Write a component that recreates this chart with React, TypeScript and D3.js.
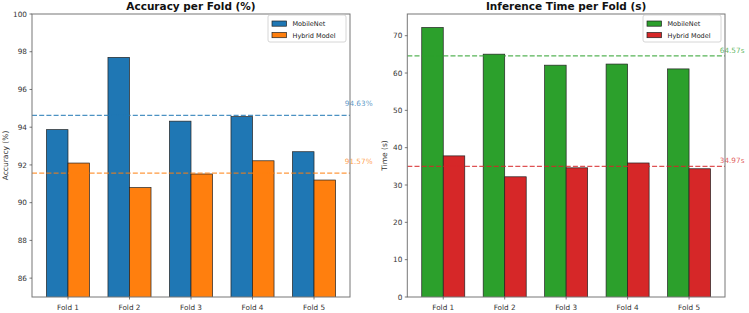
import React from "react";
import { scaleLinear, mean, max } from "d3";

const folds = ["Fold 1", "Fold 2", "Fold 3", "Fold 4", "Fold 5"];
const seriesNames = ["MobileNet", "Hybrid Model"];

const accMobileNet = [93.87, 97.7, 94.32, 94.56, 92.7];
const accHybrid = [92.1, 90.8, 91.52, 92.22, 91.2];
const accTicks = [86, 88, 90, 92, 94, 96, 98, 100];

const timeMobileNet = [72.2, 65.05, 62.1, 62.4, 61.1];
const timeHybrid = [37.8, 32.2, 34.6, 35.9, 34.35];
const timeTicks = [0, 10, 20, 30, 40, 50, 60, 70];

const FONT = "DejaVu Sans, sans-serif";
const BAR_W = 0.35;

type PanelProps = {
  title: string;
  ylabel: string;
  left: number;
  right: number;
  yDomain: [number, number];
  ticks: number[];
  a: number[];
  b: number[];
  colors: [string, string];
  unit: string;
  labelOffset: number;
  ylabelX: number;
};

function Panel(p: PanelProps) {
  const top = 14;
  const bottom = 297;
  const x = scaleLinear().domain([-0.585, folds.length - 1 + 0.585]).range([p.left, p.right]);
  const y = scaleLinear().domain(p.yDomain).range([bottom, top]);
  const means = [mean(p.a) as number, mean(p.b) as number];
  const series = [p.a, p.b];
  const cx = (p.left + p.right) / 2;
  const legX = p.right - 82;

  return (
    <g>
      <defs>
        <clipPath id={"clip" + p.left}>
          <rect x={p.left} y={top} width={p.right - p.left} height={bottom - top} />
        </clipPath>
      </defs>
      <g clipPath={`url(#clip${p.left})`}>
        {series.map((vals, s) =>
          vals.map((v, i) => {
            const x0 = x(i + (s === 0 ? -BAR_W : 0));
            const w = x(BAR_W) - x(0);
            const yt = y(v);
            return (
              <rect key={s + "-" + i} x={x0} y={yt} width={w} height={bottom - yt + 2}
                fill={p.colors[s]} stroke="#222" strokeWidth={0.7} />
            );
          })
        )}
      </g>
      {means.map((m, s) => (
        <g key={"m" + s}>
          <line x1={p.left} x2={p.right} y1={y(m)} y2={y(m)} stroke={p.colors[s]}
            strokeOpacity={0.8} strokeWidth={1.2} strokeDasharray="5,2.2" />
          <text x={x(4.5)} y={y(m + p.labelOffset) + 0.5} fill={p.colors[s]} fillOpacity={0.75}
            fontSize={7.3} fontFamily={FONT}>
            {m.toFixed(2) + p.unit}
          </text>
        </g>
      ))}
      <rect x={p.left} y={top} width={p.right - p.left} height={bottom - top} fill="none"
        stroke="#777" strokeWidth={1} />
      {p.ticks.map((t) => (
        <g key={"t" + t}>
          <line x1={p.left - 2.5} x2={p.left} y1={y(t)} y2={y(t)} stroke="#444" strokeWidth={0.7} />
          <text x={p.left - 5} y={y(t) + 2.6} textAnchor="end" fontSize={7.3} fontFamily={FONT} fill="#333">
            {t}
          </text>
        </g>
      ))}
      {folds.map((f, i) => (
        <g key={f}>
          <line x1={x(i)} x2={x(i)} y1={bottom} y2={bottom + 2.5} stroke="#444" strokeWidth={0.7} />
          <text x={x(i)} y={bottom + 13} textAnchor="middle" fontSize={7.3} fontFamily={FONT} fill="#333">
            {f}
          </text>
        </g>
      ))}
      <text x={cx} y={10} textAnchor="middle" fontSize={10.5} fontWeight="bold" fontFamily={FONT} fill="#111">
        {p.title}
      </text>
      <text transform={`translate(${p.ylabelX},${(top + bottom) / 2}) rotate(-90)`} textAnchor="middle"
        fontSize={7.5} fontFamily={FONT} fill="#333">
        {p.ylabel}
      </text>
      <g>
        <rect x={legX} y={15} width={78} height={27} rx={2} fill="white" fillOpacity={0.85}
          stroke="#ccc" strokeWidth={0.8} />
        {seriesNames.map((n, s) => (
          <g key={n}>
            <rect x={legX + 4} y={21 + s * 11.5} width={14.5} height={5.2} fill={p.colors[s]}
              stroke="#222" strokeWidth={0.7} />
            <text x={legX + 24.5} y={26.3 + s * 11.5} fontSize={6.5} fontFamily={FONT} fill="#222">
              {n}
            </text>
          </g>
        ))}
      </g>
    </g>
  );
}

export default function App() {
  const timeMax = (max([...timeMobileNet, ...timeHybrid]) as number) * 1.05;
  return (
    <svg width={749} height={313} style={{ position: "absolute", left: 0, top: 0, background: "white" }}>
      <Panel title="Accuracy per Fold (%)" ylabel="Accuracy (%)" left={32} right={350}
        yDomain={[85, 100]} ticks={accTicks} a={accMobileNet} b={accHybrid}
        colors={["#1f77b4", "#ff7f0e"]} unit="%" labelOffset={0.5} ylabelX={8} />
      <Panel title="Inference Time per Fold (s)" ylabel="Time (s)" left={407.3} right={725}
        yDomain={[0, timeMax]} ticks={timeTicks} a={timeMobileNet} b={timeHybrid}
        colors={["#2ca02c", "#d62728"]} unit="s" labelOffset={1} ylabelX={387} />
    </svg>
  );
}
